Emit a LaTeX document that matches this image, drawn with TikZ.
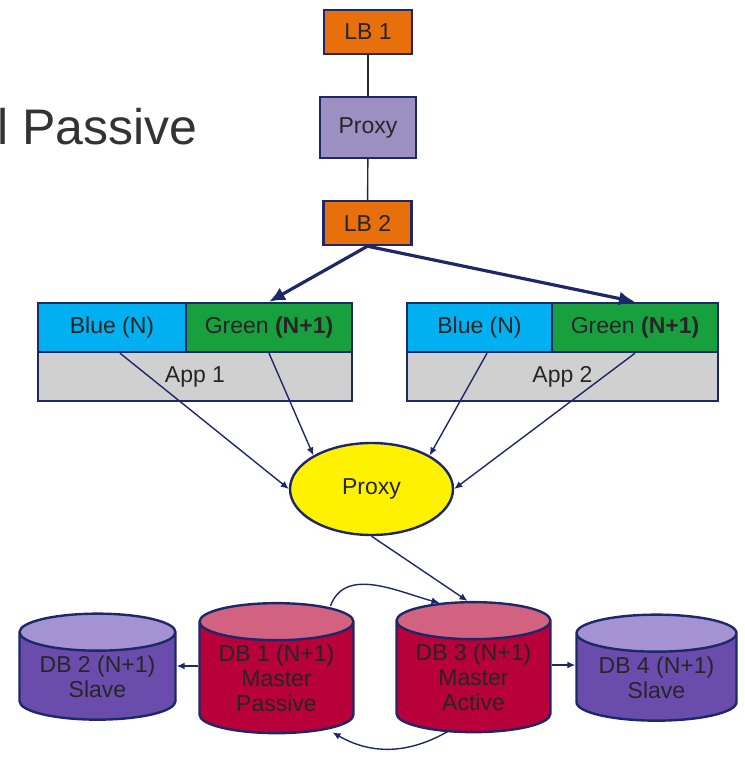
\documentclass[tikz,border=0pt]{standalone}
\usepackage{fontspec}
\setmainfont{Liberation Sans}
\usetikzlibrary{positioning,arrows.meta,shapes.geometric}
\definecolor{navy}{RGB}{30,40,105}
\definecolor{lbOrange}{RGB}{232,112,12}
\definecolor{pxPurple}{RGB}{156,143,194}
\definecolor{appBlue}{RGB}{0,176,240}
\definecolor{appGreen}{RGB}{24,160,62}
\definecolor{appGray}{RGB}{208,208,208}
\definecolor{dbRed}{RGB}{184,0,58}
\definecolor{dbRedTop}{RGB}{210,98,128}
\definecolor{dbPurple}{RGB}{106,76,172}
\definecolor{dbPurpleTop}{RGB}{164,146,210}

\begin{document}
\begin{tikzpicture}[x=0.5pt, y=-0.5pt,
  font=\fontsize{11.5}{12.5}\selectfont,
  box/.style={draw=navy, line width=1.2pt, align=center, inner sep=0pt, text=black!85},
  lb/.style={box, fill=lbOrange, minimum width=44pt, minimum height=22pt},
  part/.style={box, minimum height=24.5pt},
  db/.style={cylinder, shape border rotate=90, aspect=0.32, draw=navy, line width=1.2pt,
    cylinder uses custom fill, align=center, inner sep=0pt, text=black!85},
  master/.style={db, cylinder body fill=dbRed, cylinder end fill=dbRedTop,
    minimum width=77pt, minimum height=65pt},
  slave/.style={db, cylinder body fill=dbPurple, cylinder end fill=dbPurpleTop,
    minimum width=78pt, minimum height=53pt},
  link/.style={black!85, line width=0.7pt},
  arr/.style={-{Latex[length=8pt,width=7pt]}, navy, line width=1.6pt},
  thin/.style={-{Latex[length=4pt,width=3.5pt]}, navy, line width=0.7pt}]
\clip (0,0) rectangle (744,758);
\node[anchor=base west, inner sep=0pt, text=black!80, font=\fontsize{25}{30}\selectfont] (title) at (-3,145) {l Passive};
% ---- load balancers ----
\node[lb] (lb1) at (368,32) {LB 1};
\node[box, fill=pxPurple, minimum width=48pt, minimum height=30.5pt] (pxA) at (368,127.5) {Proxy};
\node[lb] (lb2) at (367.5,223) {LB 2};
\draw[link] (lb1) -- (pxA);
\draw[link] (pxA) -- (lb2);
% ---- app servers ----
\node[part, fill=appBlue, minimum width=74pt] (blue1) at (112,327.5) {Blue (N)};
\node[part, fill=appGreen, minimum width=83pt] (green1) at (269,327.5) {Green \textbf{(N+1)}};
\node[part, fill=appGray, minimum width=157pt] (app1) at (195,376.5) {App 1};
\node[part, fill=appBlue, minimum width=72.5pt] (blue2) at (479.5,327.5) {Blue (N)};
\node[part, fill=appGreen, minimum width=83pt] (green2) at (635,327.5) {Green \textbf{(N+1)}};
\node[part, fill=appGray, minimum width=155.5pt] (app2) at (562.5,376.5) {App 2};
\draw[arr] (lb2.south) -- (green1.north);
\draw[arr] (lb2.south) -- (green2.north);
% ---- db proxy ----
\node[ellipse, draw=navy, line width=1.2pt, fill=yellow, minimum width=81.5pt, minimum height=46pt,
  inner sep=0pt, text=black!85] (pxB) at (371.5,489) {Proxy};
\draw[thin] ([xshift=4pt]blue1.south) -- (pxB.west);
\draw[thin] (green1.south) -- (pxB.150);
\draw[thin] ([xshift=3.75pt]blue2.south) -- (pxB.30);
\draw[thin] (green2.south) -- (pxB.east);
% ---- databases ----
\node[slave] (db2) at (97.5,676.5) {DB 2 (N+1)\\Slave};
\node[master] (db1) at (276.5,678) {DB 1 (N+1)\\Master\\Passive};
\node[master] (db3) at (473.5,677) {DB 3 (N+1)\\Master\\Active};
\node[slave, minimum width=80pt] (db4) at (656.5,677.5) {DB 4 (N+1)\\Slave};
\draw[thin] (pxB.south) -- ([xshift=-3pt]db3.north);
\draw[thin] ([xshift=27pt,yshift=-2pt]db1.north) to[out=70, in=165] ([xshift=-17pt,yshift=-1pt]db3.north);
\draw[thin] ([xshift=-12.75pt,yshift=1pt]db3.south) to[out=-150, in=-30] ([xshift=28pt,yshift=1pt]db1.south);
\draw[thin] ([yshift=6pt]db1.west) -- ([yshift=6pt]db1.west -| db2.east);
\draw[thin] ([yshift=6pt]db3.east) -- ([yshift=6pt]db3.east -| db4.west);
\end{tikzpicture}
\end{document}
